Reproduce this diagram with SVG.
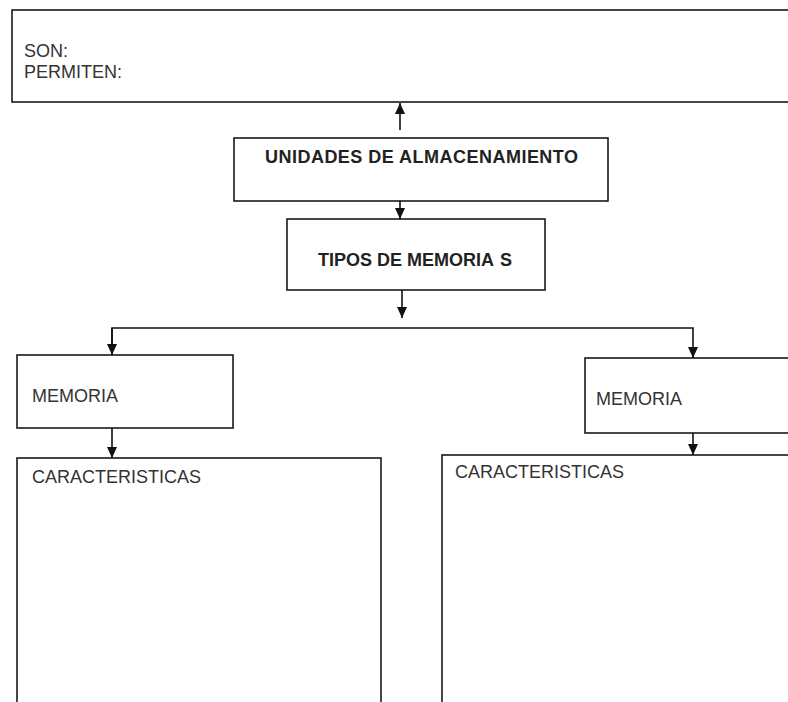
<svg xmlns="http://www.w3.org/2000/svg" width="788" height="702" viewBox="0 0 788 702">
<defs>
<marker id="ah" markerUnits="userSpaceOnUse" markerWidth="12" markerHeight="12" viewBox="0 0 12 12" refX="11" refY="6" orient="auto">
<path d="M0,1 L11,6 L0,11 Z" fill="#111"/>
</marker>
<style>
.box{fill:#fff;stroke:#1a1a1a;stroke-width:1.6}
.t{font-family:"Liberation Sans",Arial,sans-serif;font-size:18px;fill:#333}
.b{font-family:"Liberation Sans",Arial,sans-serif;font-size:18px;font-weight:bold;fill:#222}
.c{fill:none;stroke:#111;stroke-width:1.6}
</style>
</defs>
<rect width="788" height="702" fill="#fff"/>
<g id="top">
<rect class="box" x="12" y="10" width="800" height="92"/>
<text class="t" x="24" y="57">SON:</text>
<text class="t" x="24" y="78">PERMITEN:</text>
</g>
<g id="unidades">
<rect class="box" x="234" y="138" width="374" height="63"/>
<text class="b" x="265" y="163" textLength="313">UNIDADES DE ALMACENAMIENTO</text>
</g>
<g id="tipos">
<rect class="box" x="287" y="219" width="258" height="71"/>
<text class="b" x="318" y="266">TIPOS DE MEMORIA<tspan dx="6">S</tspan></text>
</g>
<g id="memoria1">
<rect class="box" x="17" y="355" width="216" height="73"/>
<text class="t" x="32" y="402">MEMORIA</text>
</g>
<g id="memoria2">
<rect class="box" x="585" y="358" width="220" height="75"/>
<text class="t" x="596" y="405">MEMORIA</text>
</g>
<g id="caract1">
<rect class="box" x="17" y="458" width="364" height="260"/>
<text class="t" x="32" y="483">CARACTERISTICAS</text>
</g>
<g id="caract2">
<rect class="box" x="442" y="455" width="360" height="260"/>
<text class="t" x="455" y="478">CARACTERISTICAS</text>
</g>
<g id="connectors">
<path class="c" d="M400,130 V103" marker-end="url(#ah)"/>
<path class="c" d="M400,201 V219" marker-end="url(#ah)"/>
<path class="c" d="M402,290 V318" marker-end="url(#ah)"/>
<path class="c" d="M112,355 V328 H693 V358" marker-end="url(#ah)"/>
<path class="c" d="M112,328 V355" marker-end="url(#ah)"/>
<path class="c" d="M112,428 V458" marker-end="url(#ah)"/>
<path class="c" d="M693,433 V455" marker-end="url(#ah)"/>
</g>
</svg>
